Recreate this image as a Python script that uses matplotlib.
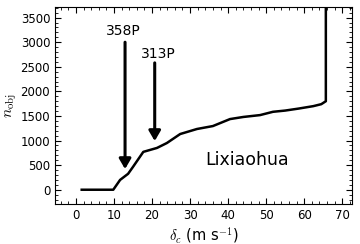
import matplotlib
matplotlib.use("Agg")
import matplotlib.pyplot as plt
from matplotlib.ticker import MultipleLocator

plt.rcParams['mathtext.fontset'] = 'cm'
plt.rcParams['mathtext.rm'] = 'DejaVu Sans'

# curve
delta_c = [1.5, 9.8, 11.6, 13.7, 15.0, 17.7, 21.3, 23.9, 27.4, 31.8, 36.0,
           40.5, 44.0, 48.4, 51.8, 55.0, 58.5, 62.4, 64.5, 65.7, 65.7]
n_obj = [0, 0, 200, 324, 466, 770, 850, 950, 1133, 1235, 1295,
         1437, 1480, 1518, 1585, 1610, 1650, 1700, 1740, 1800, 4000]

arrow_labels = ['358P', '313P']
arrow_x = [12.9, 20.7]
arrow_start = [3000, 2580]
arrow_end = [420, 990]
label_x = [12.5, 21.7]
label_y = [3230, 2760]

fig = plt.figure(figsize=(3.6, 2.44), dpi=100)
ax = fig.add_axes([0.153, 0.164, 0.825, 0.806])

ax.plot(delta_c, n_obj, color='black', lw=1.8)

for lab, x, y0, y1, lx, ly in zip(arrow_labels, arrow_x, arrow_start, arrow_end,
                                  label_x, label_y):
    ax.annotate('', xy=(x, y1), xytext=(x, y0),
                arrowprops=dict(arrowstyle='-|>,head_width=0.35,head_length=0.6',
                                color='black', lw=2.2, shrinkA=0, shrinkB=0))
    ax.text(lx, ly, lab, ha='center', va='center', fontsize=10)

ax.text(45, 610, 'Lixiaohua', ha='center', va='center', fontsize=12.5)

ax.set_xlim(-5.5, 72.6)
ax.set_ylim(-290, 3710)
ax.xaxis.set_major_locator(MultipleLocator(10))
ax.xaxis.set_minor_locator(MultipleLocator(2))
ax.yaxis.set_major_locator(MultipleLocator(500))
ax.yaxis.set_minor_locator(MultipleLocator(100))
ax.tick_params(which='both', direction='in', top=True, right=True, labelsize=8.5)
ax.tick_params(which='major', length=4)
ax.tick_params(which='minor', length=2)

ax.set_xlabel(r'$\delta_c$ (m s$^{-1}$)', fontsize=10.5, labelpad=2)
ax.set_ylabel(r'$n_{\rm obj}$', fontsize=11, labelpad=1)

fig.savefig('out.png', dpi=100)
